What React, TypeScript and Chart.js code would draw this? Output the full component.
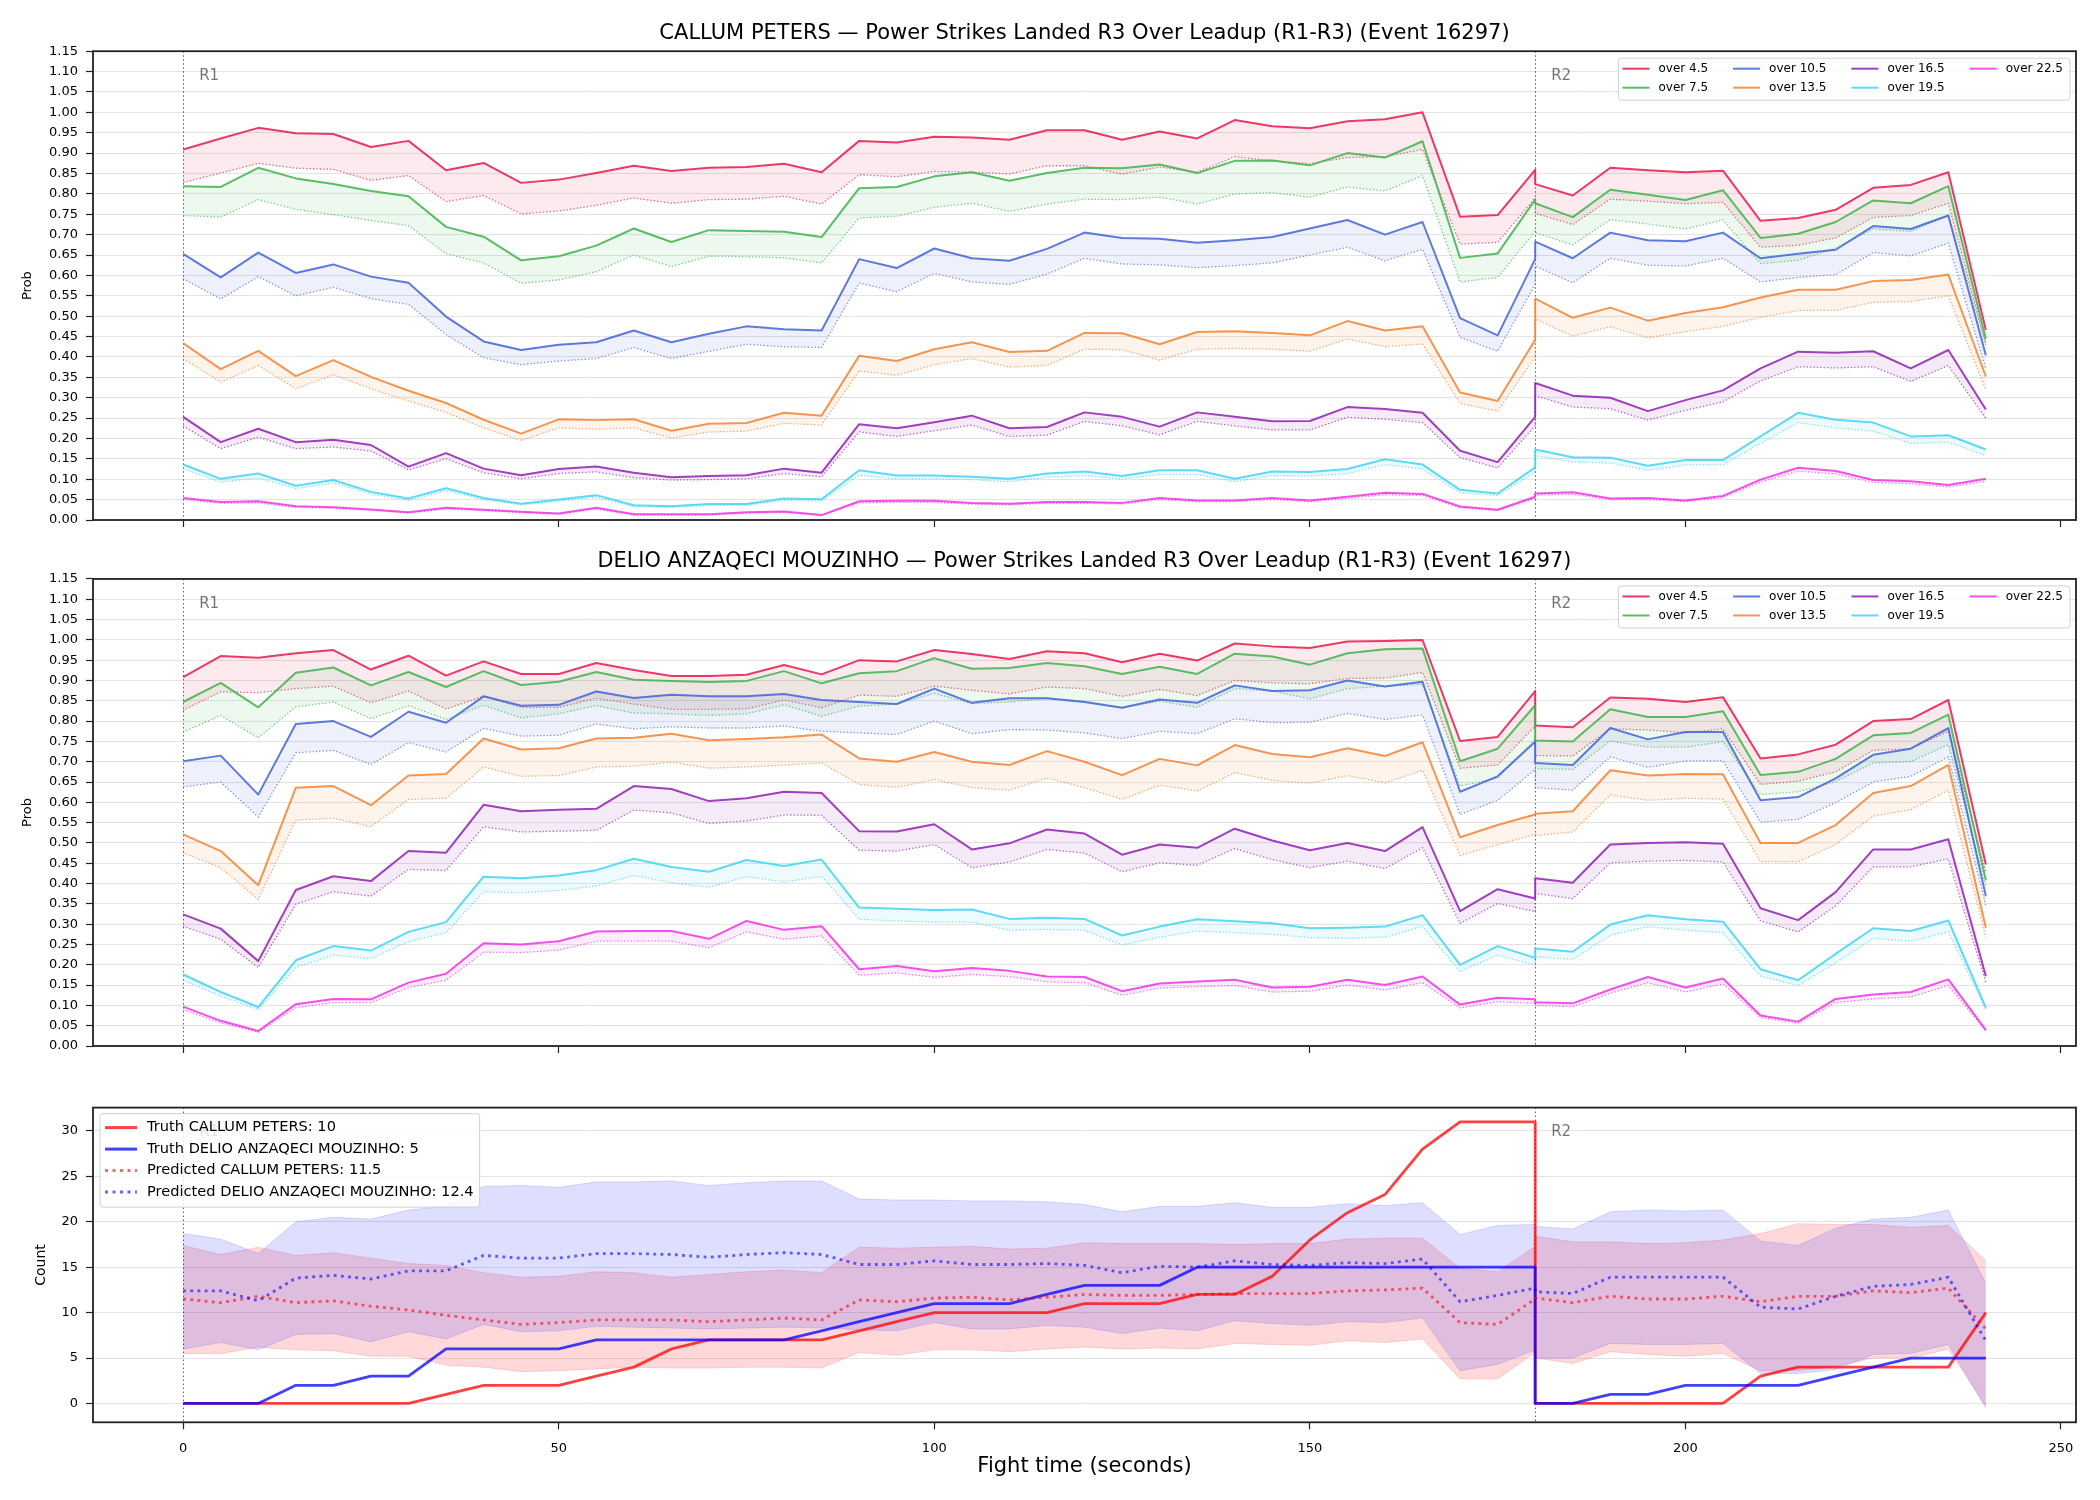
import React, { useEffect, useRef } from "react";
import { Chart, registerables } from "chart.js";

Chart.register(...registerables);

const FONT = '"DejaVu Sans", "Liberation Sans", sans-serif';
Chart.defaults.font.family = FONT;
Chart.defaults.color = "#000";

// ---------------- data ----------------
const TIMES = [0, 5, 10, 15, 20, 25, 30, 35, 40, 45, 50, 55, 60, 65, 70, 75, 80, 85, 90, 95, 100, 105, 110, 115, 120, 125, 130, 135, 140, 145, 150, 155, 160, 165, 170, 175, 180, 180, 185, 190, 195, 200, 205, 210, 215, 220, 225, 230, 235, 240];
const X_TICKS = [0, 50, 100, 150, 200, 250];
const PROB_TICKS = [0, 0.05, 0.1, 0.15, 0.2, 0.25, 0.3, 0.35, 0.4, 0.45, 0.5, 0.55, 0.6, 0.65, 0.7, 0.75, 0.8, 0.85, 0.9, 0.95, 1.0, 1.05, 1.1, 1.15];
const COUNT_TICKS = [0, 5, 10, 15, 20, 25, 30];
const ROUND_TIMES = [0, 180];
const ROUND_LABELS = ["R1", "R2"];
const THRESHOLDS = ["over 4.5", "over 7.5", "over 10.5", "over 13.5", "over 16.5", "over 19.5", "over 22.5"];
const TITLE_CP = "CALLUM PETERS \u2014 Power Strikes Landed R3 Over Leadup (R1-R3) (Event 16297)";
const TITLE_DM = "DELIO ANZAQECI MOUZINHO \u2014 Power Strikes Landed R3 Over Leadup (R1-R3) (Event 16297)";
const COUNT_LEGEND = ["Truth CALLUM PETERS: 10", "Truth DELIO ANZAQECI MOUZINHO: 5", "Predicted CALLUM PETERS: 11.5", "Predicted DELIO ANZAQECI MOUZINHO: 12.4"];

// CALLUM PETERS — actual (solid) and predicted (dotted)
const cpA45 = [.909,.936,.962,.949,.947,.915,.930,.858,.876,.827, .835,.851,.869,.856,.864,.866,.874,.853,.930,.926, .940,.938,.933,.956,.956,.933,.953,.936,.981,.966, .961,.978,.983,1.000,.744,.748, .859,.824, .796,.864,.858,.853,.857,.734,.741,.761,.815,.822,.853,.466];
const cpP45 = [.828,.851,.875,.863,.860,.833,.845,.781,.796,.751, .758,.772,.790,.777,.786,.787,.794,.775,.847,.842, .855,.853,.849,.869,.869,.848,.866,.853,.891,.881, .874,.889,.891,.909,.677,.681, .790,.752, .725,.787,.782,.776,.779,.669,.674,.692,.742,.747,.777,.430];
const cpA75 = [.819,.817,.864,.838,.824,.807,.794,.719,.695,.637, .647,.673,.715,.682,.711,.709,.707,.694,.814,.817, .843,.853,.832,.851,.864,.863,.872,.851,.881,.882, .870,.900,.889,.929,.643,.654, .786,.777, .743,.810,.798,.785,.809,.692,.702,.731,.784,.777,.819,.444];
const cpP75 = [.747,.743,.786,.762,.749,.735,.722,.653,.631,.581, .589,.609,.650,.622,.647,.646,.643,.631,.741,.745, .767,.777,.757,.775,.787,.786,.792,.775,.800,.803, .792,.817,.807,.845,.584,.595, .708,.705, .675,.737,.726,.714,.736,.629,.637,.667,.714,.708,.747,.430];
const cpA105 = [.653,.595,.656,.606,.627,.597,.582,.499,.438,.417, .430,.436,.465,.436,.457,.475,.468,.465,.640,.618, .666,.642,.636,.665,.705,.692,.690,.680,.686,.694, .715,.736,.700,.731,.495,.453, .640,.683, .642,.705,.686,.684,.705,.642,.653,.663,.721,.714,.747,.404];
const cpP105 = [.592,.542,.597,.550,.571,.543,.529,.455,.398,.381, .390,.396,.423,.396,.414,.431,.425,.423,.581,.560, .605,.584,.578,.603,.642,.628,.626,.619,.624,.631, .650,.669,.636,.664,.448,.414, .578,.623, .582,.642,.625,.623,.642,.584,.595,.602,.656,.648,.679,.370];
const cpA135 = [.434,.370,.415,.353,.392,.351,.317,.287,.246,.212, .247,.245,.247,.219,.236,.238,.263,.256,.403,.390, .419,.436,.412,.415,.459,.458,.431,.461,.463,.459, .453,.488,.465,.475,.313,.292, .442,.543, .496,.521,.489,.508,.522,.546,.565,.565,.586,.589,.602,.352];
const cpP135 = [.396,.338,.379,.322,.356,.322,.292,.264,.226,.195, .226,.223,.226,.201,.216,.218,.237,.233,.366,.355, .381,.396,.375,.379,.419,.418,.392,.419,.421,.419, .414,.444,.425,.432,.286,.267, .400,.493, .451,.474,.447,.462,.475,.497,.514,.514,.534,.536,.550,.319];
const cpA165 = [.253,.191,.224,.191,.197,.184,.131,.164,.126,.110, .125,.131,.116,.105,.108,.110,.126,.116,.235,.225, .240,.256,.225,.228,.264,.253,.229,.264,.253,.242, .243,.277,.272,.263,.170,.142, .253,.336, .305,.300,.267,.294,.318,.372,.413,.410,.414,.372,.417,.271];
const cpP165 = [.231,.175,.203,.175,.179,.169,.123,.150,.116,.101, .114,.118,.104,.098,.099,.101,.114,.106,.216,.205, .219,.233,.205,.208,.242,.231,.209,.242,.231,.221, .221,.252,.247,.239,.153,.128, .231,.305, .277,.273,.245,.269,.290,.341,.376,.373,.376,.340,.379,.249];
const cpA195 = [.136,.101,.114,.084,.098,.069,.053,.078,.054,.040, .050,.061,.036,.034,.039,.039,.053,.051,.122,.109, .109,.106,.101,.114,.119,.108,.122,.122,.101,.119, .118,.125,.149,.136,.074,.065, .129,.173, .154,.153,.133,.147,.147,.205,.263,.246,.239,.205,.208,.173];
const cpP195 = [.126,.093,.103,.077,.091,.064,.048,.072,.050,.037, .046,.056,.033,.031,.036,.036,.048,.047,.110,.101, .101,.099,.094,.105,.109,.101,.112,.112,.094,.109, .108,.114,.136,.125,.067,.060, .118,.158, .142,.140,.122,.135,.135,.188,.239,.226,.218,.188,.191,.158];
const cpA225 = [.054,.044,.046,.034,.031,.026,.019,.030,.025,.020, .016,.030,.014,.014,.014,.019,.021,.012,.046,.047, .047,.042,.040,.044,.044,.042,.054,.048,.048,.054, .048,.057,.067,.064,.033,.025, .057,.065, .068,.053,.054,.048,.059,.099,.128,.120,.098,.095,.086,.101];
const cpP225 = [.050,.041,.042,.031,.029,.024,.017,.027,.023,.018, .014,.027,.012,.012,.012,.017,.019,.011,.042,.043, .043,.039,.037,.041,.041,.039,.050,.045,.045,.050, .045,.053,.062,.060,.030,.023, .053,.061, .063,.050,.050,.045,.055,.093,.120,.113,.092,.089,.081,.095];

// DELIO ANZAQECI MOUZINHO — actual (solid) and predicted (dotted)
const dmA45 = [.908,.960,.956,.967,.975,.927,.961,.912,.947,.916, .916,.943,.926,.911,.911,.914,.938,.915,.950,.947, .975,.965,.953,.972,.967,.945,.966,.949,.991,.984, .980,.996,.997,1.000,.751,.761, .874,.789, .785,.858,.855,.847,.859,.708,.718,.742,.800,.805,.852,.447];
const dmP45 = [.827,.872,.870,.880,.886,.845,.874,.830,.861,.834, .834,.856,.842,.829,.829,.830,.852,.833,.864,.861, .886,.876,.867,.884,.880,.861,.878,.863,.900,.894, .892,.905,.906,.920,.684,.692, .788,.715, .714,.781,.778,.771,.781,.644,.652,.675,.728,.732,.775,.427];
const dmA75 = [.847,.894,.834,.919,.932,.888,.921,.884,.923,.889, .897,.921,.902,.899,.896,.899,.923,.893,.918,.923, .955,.929,.931,.943,.935,.916,.934,.916,.966,.959, .939,.967,.977,.979,.701,.732, .839,.752, .750,.829,.810,.810,.824,.667,.675,.707,.765,.771,.816,.408];
const dmP75 = [.773,.814,.759,.835,.847,.806,.838,.804,.839,.808, .818,.838,.820,.818,.814,.818,.840,.812,.837,.842, .868,.843,.847,.856,.849,.833,.849,.834,.880,.874, .855,.880,.886,.890,.640,.660, .755,.683, .681,.751,.736,.736,.749,.619,.626,.651,.697,.700,.742,.394];
const dmA105 = [.701,.715,.619,.793,.800,.761,.823,.796,.861,.838, .840,.873,.857,.865,.861,.861,.867,.852,.847,.842, .880,.845,.856,.856,.847,.833,.853,.845,.888,.874, .876,.900,.885,.897,.626,.664, .749,.697, .692,.783,.755,.773,.773,.605,.613,.659,.717,.732,.783,.369];
const dmP105 = [.638,.650,.564,.722,.728,.693,.747,.724,.782,.763, .765,.793,.781,.786,.783,.783,.788,.775,.771,.767, .800,.769,.779,.778,.771,.757,.775,.769,.806,.796, .797,.819,.804,.815,.570,.605, .681,.636, .630,.712,.686,.702,.702,.551,.558,.599,.650,.664,.712,.345];
const dmA135 = [.521,.480,.396,.636,.640,.593,.666,.670,.757,.730, .733,.757,.759,.769,.753,.756,.760,.767,.708,.700, .724,.700,.692,.726,.700,.667,.707,.691,.741,.719, .711,.733,.714,.748,.514,.544, .570,.572, .578,.679,.666,.670,.669,.500,.500,.544,.623,.640,.692,.291];
const dmP135 = [.476,.439,.361,.556,.561,.540,.607,.610,.687,.664, .666,.687,.689,.699,.684,.687,.692,.697,.644,.637, .656,.636,.630,.660,.636,.607,.642,.628,.673,.654, .647,.666,.648,.679,.469,.496, .521,.518, .527,.618,.605,.610,.608,.454,.454,.496,.566,.582,.630,.267];
const dmA165 = [.324,.289,.209,.384,.418,.406,.480,.476,.594,.578, .582,.584,.640,.633,.603,.610,.626,.623,.529,.528, .546,.484,.499,.533,.523,.471,.496,.488,.535,.506, .482,.500,.480,.539,.332,.386, .363,.413, .402,.496,.500,.502,.498,.339,.310,.379,.484,.484,.509,.172];
const dmP165 = [.295,.263,.193,.349,.380,.369,.435,.432,.540,.527, .529,.531,.581,.574,.548,.554,.569,.568,.482,.480, .496,.439,.453,.484,.475,.429,.451,.445,.486,.459, .439,.455,.437,.488,.302,.351, .331,.376, .363,.451,.455,.457,.453,.308,.281,.345,.441,.441,.461,.156];
const dmA195 = [.176,.133,.096,.211,.246,.235,.281,.305,.417,.413, .420,.433,.461,.441,.429,.458,.443,.459,.341,.338, .335,.336,.313,.316,.313,.272,.294,.312,.307,.302, .290,.291,.294,.322,.200,.246, .217,.240, .232,.299,.322,.312,.306,.189,.162,.227,.290,.283,.309,.094];
const dmP195 = [.162,.123,.089,.193,.224,.215,.257,.279,.380,.377, .383,.394,.420,.402,.391,.417,.404,.418,.312,.308, .305,.305,.285,.287,.285,.249,.268,.283,.279,.275, .267,.265,.268,.294,.183,.224, .199,.220, .213,.273,.294,.285,.279,.172,.149,.205,.265,.258,.281,.090];
const dmA225 = [.097,.062,.037,.103,.116,.115,.156,.178,.253,.250, .258,.282,.283,.283,.264,.308,.286,.295,.189,.197, .184,.192,.185,.171,.170,.135,.154,.159,.163,.144, .146,.163,.150,.171,.102,.119, .115,.108, .105,.139,.170,.144,.166,.075,.060,.116,.127,.133,.164,.039];
const dmP225 = [.089,.057,.034,.094,.107,.107,.144,.162,.231,.230, .236,.258,.258,.258,.242,.281,.263,.271,.174,.180, .169,.176,.171,.158,.156,.125,.143,.146,.149,.133, .135,.150,.138,.156,.094,.109, .105,.100, .097,.130,.156,.133,.153,.070,.056,.107,.116,.121,.149,.037];

// Count panel
const truthCP = [0,0,0,0,0,0,0,1,2,2, 2,3,4,6,7,7,7,7,8,9, 10,10,10,10,11,11,11,12,12,14, 18,21,23,28,31,31, 31,0, 0,0,0,0,0,3,4,4,4,4,4,10];
const truthDM = [0,0,0,2,2,3,3,6,6,6, 6,7,7,7,7,7,7,8,9,10, 11,11,11,12,13,13,13,15,15,15, 15,15,15,15,15,15, 15,0, 0,1,1,2,2,2,2,3,4,5,5,5];
const predCP = [11.5,11.1,11.8,11.1,11.3,10.7,10.3,9.7,9.2,8.7, 8.9,9.2,9.2,9.2,9.0,9.2,9.4,9.2,11.4,11.2, 11.6,11.7,11.4,11.7,12.0,11.9,11.9,12.0,12.1,12.1, 12.1,12.4,12.5,12.7,8.9,8.7, 11.5,11.6, 11.1,11.8,11.5,11.5,11.8,11.2,11.8,11.8,12.4,12.2,12.7,8.2];
const predDM = [12.4,12.4,11.3,13.8,14.1,13.7,14.6,14.6,16.3,16.0, 16.0,16.5,16.5,16.4,16.1,16.4,16.6,16.4,15.3,15.3, 15.7,15.3,15.3,15.4,15.2,14.4,15.1,15.0,15.7,15.3, 15.2,15.5,15.4,15.9,11.2,11.9, 12.7,12.3, 12.1,13.9,13.9,13.9,13.9,10.6,10.4,11.8,12.9,13.1,13.9,6.9];
const cpHi = [17.4,16.4,17.2,16.3,16.6,16.0,15.4,15.2,14.4,13.9, 14.0,14.5,14.4,13.9,14.2,14.5,14.7,14.4,17.2,17.1, 17.2,17.3,17.0,17.1,17.7,17.6,17.6,17.6,17.5,17.6, 17.6,18.1,18.2,18.2,14.9,14.5, 17.3,18.4, 17.8,17.8,17.6,17.7,18.0,18.7,19.8,19.7,19.7,19.4,19.6,15.7];
const cpLo = [5.5,5.5,6.2,5.9,5.8,5.2,5.2,4.2,4.0,3.5, 3.6,3.8,4.0,3.9,3.9,4.0,4.0,3.9,5.6,5.3, 5.9,5.9,5.7,6.0,6.2,6.0,6.1,6.0,6.6,6.5, 6.4,6.9,6.7,7.1,2.7,2.7, 5.6,5.0, 4.4,5.7,5.4,5.2,5.5,3.6,3.6,4.1,5.0,5.0,6.0,-0.3];
const dmHi = [18.7,18.1,16.5,20.0,20.5,20.3,21.3,21.7,23.9,24.0, 23.8,24.4,24.4,24.5,24.0,24.3,24.5,24.5,22.5,22.4, 22.4,22.3,22.3,22.2,21.9,21.1,21.7,21.7,22.1,21.6, 21.6,22.0,21.8,22.1,18.6,19.6, 19.7,19.5, 19.2,21.1,21.3,21.2,21.3,17.9,17.4,19.3,20.3,20.5,21.3,13.2];
const dmLo = [6.0,6.7,5.9,7.6,7.7,6.8,7.9,7.1,8.7,7.9, 8.0,8.5,8.4,8.3,8.2,8.3,8.4,8.3,8.1,8.0, 8.9,8.2,8.2,8.6,8.4,7.7,8.3,8.0,9.1,8.8, 8.6,9.0,8.9,9.4,3.6,4.3, 5.9,5.0, 5.0,6.6,6.5,6.5,6.6,3.3,3.3,3.7,5.4,5.5,6.5,-0.5];

// ---------------- styles ----------------
const SERIES_COLORS = ["#e6194b", "#3cb44b", "#4363d8", "#f58231", "#911eb4", "#42d4f4", "#f032e6"];
const CP_ACTUAL = [cpA45, cpA75, cpA105, cpA135, cpA165, cpA195, cpA225];
const CP_PRED = [cpP45, cpP75, cpP105, cpP135, cpP165, cpP195, cpP225];
const DM_ACTUAL = [dmA45, dmA75, dmA105, dmA135, dmA165, dmA195, dmA225];
const DM_PRED = [dmP45, dmP75, dmP105, dmP135, dmP165, dmP195, dmP225];

function rgba(hex: string, a: number) {
  const n = parseInt(hex.slice(1), 16);
  return `rgba(${(n >> 16) & 255},${(n >> 8) & 255},${n & 255},${a})`;
}
const toPts = (arr: number[]) => arr.map((y, i) => ({ x: TIMES[i], y }));

const framePlugin = {
  id: "frame",
  afterDraw(chart: any) {
    const { ctx, chartArea: a } = chart;
    ctx.save();
    ctx.strokeStyle = "#222";
    ctx.lineWidth = 1.8;
    ctx.strokeRect(a.left, a.top, a.right - a.left, a.bottom - a.top);
    ctx.restore();
  },
};

const roundsPlugin = {
  id: "rounds",
  beforeDatasetsDraw(chart: any) {
    const { ctx, chartArea: a, scales } = chart;
    ctx.save();
    ctx.strokeStyle = "rgba(40,40,40,0.75)";
    ctx.lineWidth = 1;
    ctx.setLineDash([1.5, 2.5]);
    ROUND_TIMES.forEach((t) => {
      const px = Math.round(scales.x.getPixelForValue(t)) + 0.5;
      ctx.beginPath();
      ctx.moveTo(px, a.top);
      ctx.lineTo(px, a.bottom);
      ctx.stroke();
    });
    ctx.restore();
  },
  afterDatasetsDraw(chart: any) {
    const { ctx, chartArea: a, scales } = chart;
    ctx.save();
    ctx.font = `15px ${FONT}`;
    ctx.fillStyle = "rgba(0,0,0,0.55)";
    ctx.textAlign = "left";
    ctx.textBaseline = "middle";
    ROUND_TIMES.forEach((t, i) => {
      ctx.fillText(ROUND_LABELS[i], scales.x.getPixelForValue(t) + 16, a.top + 25);
    });
    ctx.restore();
  },
};

function makeBoxLegend(cfg: any) {
  return {
    id: "boxLegend",
    afterDraw(chart: any) {
      const { ctx, chartArea: a } = chart;
      ctx.save();
      ctx.font = `${cfg.fontSize}px ${FONT}`;
      const n = cfg.items.length;
      const nrow = Math.ceil(n / cfg.ncol);
      const colW: number[] = [];
      for (let c = 0; c < cfg.ncol; c++) {
        let m = 0;
        for (let r = 0; r < nrow; r++) {
          const k = c * nrow + r;
          if (k < n) m = Math.max(m, ctx.measureText(cfg.items[k].label).width);
        }
        colW.push(cfg.handleLen + cfg.handleGap + m);
      }
      const w = cfg.padL + colW.reduce((s, v) => s + v, 0) + cfg.colGap * (cfg.ncol - 1) + cfg.padR;
      const h = cfg.padTop + (nrow - 1) * cfg.rowH + cfg.padBottom;
      const left = cfg.anchor === "right" ? a.right - cfg.offsetX - w : a.left + cfg.offsetX;
      const top = a.top + cfg.offsetY;
      ctx.beginPath();
      if ((ctx as any).roundRect) (ctx as any).roundRect(left, top, w, h, 3);
      else ctx.rect(left, top, w, h);
      ctx.fillStyle = "rgba(255,255,255,0.8)";
      ctx.fill();
      ctx.strokeStyle = "rgba(204,204,204,0.9)";
      ctx.lineWidth = 1;
      ctx.stroke();
      let cx = left + cfg.padL;
      for (let c = 0; c < cfg.ncol; c++) {
        for (let r = 0; r < nrow; r++) {
          const k = c * nrow + r;
          if (k >= n) continue;
          const it = cfg.items[k];
          const y = top + cfg.padTop + r * cfg.rowH;
          ctx.save();
          ctx.strokeStyle = it.color;
          ctx.lineWidth = it.width;
          ctx.setLineDash(it.dash || []);
          ctx.beginPath();
          ctx.moveTo(cx, y);
          ctx.lineTo(cx + cfg.handleLen, y);
          ctx.stroke();
          ctx.restore();
          ctx.fillStyle = "#000";
          ctx.textAlign = "left";
          ctx.textBaseline = "middle";
          ctx.fillText(it.label, cx + cfg.handleLen + cfg.handleGap, y);
        }
        cx += colW[c] + cfg.colGap;
      }
      ctx.restore();
    },
  };
}

function setTicks(values: number[]) {
  return (axis: any) => {
    axis.ticks = values.map((v) => ({ value: v }));
  };
}

function probConfig(title: string, titleSize: number, actual: number[][], pred: number[][]): any {
  const datasets: any[] = [];
  actual.forEach((arr, s) => {
    const col = SERIES_COLORS[s];
    const i = datasets.length;
    datasets.push({
      label: THRESHOLDS[s],
      data: toPts(arr),
      borderColor: rgba(col, 0.85),
      backgroundColor: rgba(col, 0.09),
      borderWidth: 2,
      pointRadius: 0,
      borderJoinStyle: "round",
      fill: { target: i + 1 },
      order: -i,
    });
    datasets.push({
      label: THRESHOLDS[s] + " predicted",
      data: toPts(pred[s]),
      borderColor: rgba(col, 0.7),
      borderWidth: 1.3,
      borderDash: [1.3, 2.1],
      pointRadius: 0,
      fill: false,
      order: -(i + 1),
    });
  });
  const legend = makeBoxLegend({
    items: THRESHOLDS.map((t, s) => ({ label: t, color: rgba(SERIES_COLORS[s], 0.85), width: 2 })),
    ncol: 4,
    fontSize: 12,
    handleLen: 27,
    handleGap: 9,
    colGap: 25,
    rowH: 19,
    padL: 4,
    padR: 7,
    padTop: 10.5,
    padBottom: 12.5,
    anchor: "right",
    offsetX: 6,
    offsetY: 7,
  });
  return {
    type: "line",
    data: { datasets },
    options: {
      animation: false,
      responsive: false,
      devicePixelRatio: 1,
      layout: { padding: { left: 0, right: 24, top: 0, bottom: 0 } },
      plugins: {
        legend: { display: false },
        tooltip: { enabled: false },
        title: {
          display: true,
          text: title,
          fullSize: false,
          color: "#000",
          font: { size: titleSize, weight: "normal", family: FONT },
          padding: { top: 21, bottom: 5 },
        },
      },
      scales: {
        x: {
          type: "linear",
          min: -12,
          max: 252,
          afterBuildTicks: setTicks(X_TICKS),
          afterFit: (s: any) => {
            s.height = 16;
          },
          ticks: { display: false, autoSkip: false },
          grid: { drawOnChartArea: false, drawTicks: true, tickLength: 7, tickColor: "#222", tickWidth: 1.2 },
          border: { display: false },
        },
        y: {
          min: 0,
          max: 1.15,
          afterBuildTicks: setTicks(PROB_TICKS),
          afterFit: (s: any) => {
            s.width = 93;
          },
          ticks: {
            autoSkip: false,
            color: "#000",
            padding: 8,
            font: { size: 13 },
            callback: (v: any) => Number(v).toFixed(2),
          },
          grid: { color: "#e3e3e3", lineWidth: 1, tickColor: "#222", tickLength: 7, tickWidth: 1.2 },
          border: { display: false },
          title: { display: true, text: "Prob", color: "#000", font: { size: 13 }, padding: { top: 20, bottom: 0 } },
        },
      },
    },
    plugins: [framePlugin, roundsPlugin, legend],
  };
}

function countConfig(): any {
  const red = (a: number) => `rgba(255,0,0,${a})`;
  const blue = (a: number) => `rgba(0,0,255,${a})`;
  const datasets: any[] = [
    { label: "cp band hi", data: toPts(cpHi), borderColor: red(0.15), backgroundColor: red(0.15), borderWidth: 1, fill: { target: 1 } },
    { label: "cp band lo", data: toPts(cpLo), borderColor: red(0.15), borderWidth: 1, fill: false },
    { label: "dm band hi", data: toPts(dmHi), borderColor: blue(0.13), backgroundColor: blue(0.13), borderWidth: 1, fill: { target: 3 } },
    { label: "dm band lo", data: toPts(dmLo), borderColor: blue(0.13), borderWidth: 1, fill: false },
    { label: COUNT_LEGEND[0], data: toPts(truthCP), borderColor: red(0.75), borderWidth: 2.8, fill: false },
    { label: COUNT_LEGEND[1], data: toPts(truthDM), borderColor: blue(0.75), borderWidth: 2.8, fill: false },
    { label: COUNT_LEGEND[2], data: toPts(predCP), borderColor: red(0.6), borderWidth: 2.8, borderDash: [2.8, 4.4], fill: false },
    { label: COUNT_LEGEND[3], data: toPts(predDM), borderColor: blue(0.6), borderWidth: 2.8, borderDash: [2.8, 4.4], fill: false },
  ].map((d, i) => ({ ...d, pointRadius: 0, order: -i, borderJoinStyle: "round" }));
  const legend = makeBoxLegend({
    items: [
      { label: COUNT_LEGEND[0], color: red(0.75), width: 3 },
      { label: COUNT_LEGEND[1], color: blue(0.75), width: 3 },
      { label: COUNT_LEGEND[2], color: red(0.6), width: 3, dash: [3, 4.5] },
      { label: COUNT_LEGEND[3], color: blue(0.6), width: 3, dash: [3, 4.5] },
    ],
    ncol: 1,
    fontSize: 14.6,
    handleLen: 32,
    handleGap: 10,
    colGap: 0,
    rowH: 21.5,
    padL: 5,
    padR: 6,
    padTop: 14,
    padBottom: 15,
    anchor: "left",
    offsetX: 7,
    offsetY: 6,
  });
  return {
    type: "line",
    data: { datasets },
    options: {
      animation: false,
      responsive: false,
      devicePixelRatio: 1,
      layout: { padding: { left: 0, right: 24, top: 47.6, bottom: 17.7 } },
      plugins: { legend: { display: false }, tooltip: { enabled: false } },
      scales: {
        x: {
          type: "linear",
          min: -12,
          max: 252,
          afterBuildTicks: setTicks(X_TICKS),
          afterFit: (s: any) => {
            s.height = 60;
          },
          ticks: { autoSkip: false, color: "#000", padding: 12, font: { size: 13 }, maxRotation: 0 },
          grid: { drawOnChartArea: false, drawTicks: true, tickLength: 7, tickColor: "#222", tickWidth: 1.2 },
          border: { display: false },
          title: { display: true, text: "Fight time (seconds)", color: "#000", font: { size: 21 }, padding: { top: 0, bottom: 3.5 } },
        },
        y: {
          min: -2.075,
          max: 32.575,
          afterBuildTicks: setTicks(COUNT_TICKS),
          afterFit: (s: any) => {
            s.width = 93;
          },
          ticks: { autoSkip: false, color: "#000", padding: 8, font: { size: 13 } },
          grid: { color: "#e3e3e3", lineWidth: 1, tickColor: "#222", tickLength: 7, tickWidth: 1.2 },
          border: { display: false },
          title: { display: true, text: "Count", color: "#000", font: { size: 14 }, padding: { top: 33, bottom: 0 } },
        },
      },
    },
    plugins: [framePlugin, roundsPlugin, legend],
  };
}

export default function App() {
  const r1 = useRef<HTMLCanvasElement>(null);
  const r2 = useRef<HTMLCanvasElement>(null);
  const r3 = useRef<HTMLCanvasElement>(null);
  useEffect(() => {
    const charts = [
      new Chart(r1.current as HTMLCanvasElement, probConfig(TITLE_CP, 21, CP_ACTUAL, CP_PRED)),
      new Chart(r2.current as HTMLCanvasElement, probConfig(TITLE_DM, 20.8, DM_ACTUAL, DM_PRED)),
      new Chart(r3.current as HTMLCanvasElement, countConfig()),
    ];
    return () => charts.forEach((c) => c.destroy());
  }, []);
  return (
    <div style={{ position: "absolute", left: 0, top: 0, width: 2100, height: 1500, background: "#fff" }}>
      <canvas ref={r1} width={2100} height={536} style={{ position: "absolute", left: 0, top: 0 }} />
      <canvas ref={r2} width={2100} height={534} style={{ position: "absolute", left: 0, top: 528 }} />
      <canvas ref={r3} width={2100} height={440} style={{ position: "absolute", left: 0, top: 1060 }} />
    </div>
  );
}
